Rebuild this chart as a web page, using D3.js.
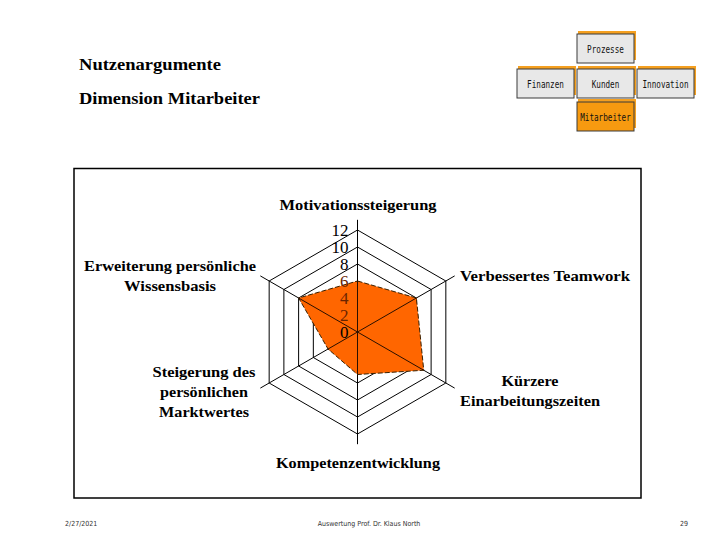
<!DOCTYPE html>
<meta charset="utf-8">
<html>
  <head>
    <style>
      body { margin: 0; background: white; }
      text { font-family: "Liberation Serif", serif; }
      .nav text { font-family: "DejaVu Sans Mono", monospace; font-size: 10px; }
      .foot { font-family: "DejaVu Sans Condensed", sans-serif; font-size: 7px; fill: #333; }
    </style>
    <script src="https://d3js.org/d3.v7.min.js"></script>
  </head>
  <body>
<div id="my_dataviz"></div>
<script>

// chart values
var axes = ["Motivationssteigerung", "Verbessertes Teamwork", "Kürzere Einarbeitungszeiten",
            "Kompetenzentwicklung", "Steigerung des persönlichen Marktwertes", "Erweiterung persönliche Wissensbasis"]
var values = [6, 8, 9, 5, 4, 8]
var ticks = [0, 2, 4, 6, 8, 10, 12]
var navItems = ["Prozesse", "Finanzen", "Kunden", "Innovation", "Mitarbeiter"]
var titleLines = ["Nutzenargumente", "Dimension Mitarbeiter"]

// label layout (lines, anchor x, first baseline, anchor)
var labelLayout = [
  {lines: ["Motivationssteigerung"], x: 358, y: 210, anchor: "middle", w: [157]},
  {lines: ["Verbessertes Teamwork"], x: 460, y: 281, anchor: "start", w: [170]},
  {lines: ["Kürzere", "Einarbeitungszeiten"], x: 530, y: 386, anchor: "middle", w: [57, 140]},
  {lines: ["Kompetenzentwicklung"], x: 358, y: 468, anchor: "middle", w: [164]},
  {lines: ["Steigerung des", "persönlichen", "Marktwertes"], x: 204, y: 377, anchor: "middle", w: [103, 88, 90]},
  {lines: ["Erweiterung persönliche", "Wissensbasis"], x: 170, y: 271, anchor: "middle", w: [172, 92]}
]
var navLayout = [
  {x: 577, y: 34}, {x: 517, y: 69}, {x: 577, y: 69}, {x: 637, y: 69}, {x: 577, y: 102}
]

var width = 720, height = 540
var cx = 357.5, cy = 332

var svg = d3.select("#my_dataviz")
  .append("svg")
  .attr("width", width)
  .attr("height", height)

// title
svg.selectAll(".title")
  .data(titleLines)
  .enter()
  .append("text")
  .attr("x", 79)
  .attr("y", (d, i) => 70 + i * 34)
  .attr("textLength", (d, i) => i == 0 ? 142 : 181)
  .attr("lengthAdjust", "spacingAndGlyphs")
  .style("font-size", "17px")
  .style("font-weight", "bold")
  .text(d => d)

// navigation boxes
var nav = svg.append("g").attr("class", "nav")
var bw = 57, bh = 29
nav.selectAll(".shadow")
  .data(navItems)
  .enter()
  .append("rect")
  .attr("x", (d, i) => navLayout[i].x + 1)
  .attr("y", (d, i) => navLayout[i].y - 3)
  .attr("width", bw + 1)
  .attr("height", bh)
  .style("fill", "#f5a020")
nav.selectAll(".box")
  .data(navItems)
  .enter()
  .append("rect")
  .attr("x", (d, i) => navLayout[i].x)
  .attr("y", (d, i) => navLayout[i].y)
  .attr("width", bw)
  .attr("height", bh)
  .style("fill", d => d == "Mitarbeiter" ? "#f79a10" : "#e8e8e8")
  .style("stroke", "#3a3a3a")
  .style("stroke-width", 1)
nav.selectAll(".lbl")
  .data(navItems)
  .enter()
  .append("text")
  .attr("x", (d, i) => navLayout[i].x + bw / 2)
  .attr("y", (d, i) => navLayout[i].y + bh / 2 + 4)
  .attr("text-anchor", "middle")
  .attr("textLength", d => d.length * 4.6)
  .attr("lengthAdjust", "spacingAndGlyphs")
  .style("fill", "#111")
  .text(d => d)

// chart frame
svg.append("rect")
  .attr("x", 74)
  .attr("y", 168.5)
  .attr("width", 567)
  .attr("height", 329.5)
  .style("fill", "white")
  .style("stroke", "black")
  .style("stroke-width", 1.5)

var r = d3.scaleLinear().domain([0, 12]).range([0, 102])
var angle = d3.scalePoint().domain(d3.range(axes.length + 1)).range([0, 2 * Math.PI])

var g = svg.append("g").attr("transform", "translate(" + cx + "," + cy + ")")

// rings
var ring = d3.lineRadial()
  .angle((d, i) => angle(i))
  .radius(d => r(d))
  .curve(d3.curveLinearClosed)
g.selectAll(".ring")
  .data(ticks.slice(1))
  .enter()
  .append("path")
  .attr("d", t => ring(axes.map(() => t)))
  .style("fill", "none")
  .style("stroke", "black")
  .style("stroke-width", 1)

// spokes
g.selectAll(".spoke")
  .data(axes)
  .enter()
  .append("line")
  .attr("x1", 0).attr("y1", 0)
  .attr("x2", (d, i) => r(13.2) * Math.sin(angle(i)))
  .attr("y2", (d, i) => -r(13.2) * Math.cos(angle(i)))
  .style("stroke", "black")
  .style("stroke-width", 1)

// data polygon
g.append("path")
  .datum(values)
  .attr("d", ring)
  .style("fill", "#ff6600")
  .style("stroke", "#3a2000")
  .style("stroke-width", 1)
  .style("stroke-dasharray", "5,2")

// redraw spokes inside polygon
g.selectAll(".spoke2")
  .data(axes)
  .enter()
  .append("line")
  .attr("x1", 0).attr("y1", 0)
  .attr("x2", (d, i) => r(values[i]) * Math.sin(angle(i)))
  .attr("y2", (d, i) => -r(values[i]) * Math.cos(angle(i)))
  .style("stroke", "#2a1000")
  .style("stroke-width", 1)

// tick labels
g.selectAll(".tick")
  .data(ticks)
  .enter()
  .append("text")
  .attr("x", -9)
  .attr("y", t => -r(t) + 6)
  .attr("text-anchor", "end")
  .style("font-size", "17px")
  .style("fill", t => t > 0 && t <= 6 ? "#6a2400" : "black")
  .text(t => t)

// category labels
labelLayout.forEach(function(L) {
  svg.selectAll(null)
    .data(L.lines)
    .enter()
    .append("text")
    .attr("x", L.x)
    .attr("y", (d, i) => L.y + i * 20)
    .attr("text-anchor", L.anchor)
    .attr("textLength", (d, i) => L.w[i])
    .attr("lengthAdjust", "spacingAndGlyphs")
    .style("font-size", "15px")
    .style("font-weight", "bold")
    .text(d => d)
})

// footer
svg.append("text").attr("class", "foot").attr("x", 65).attr("y", 526).text("2/27/2021")
svg.append("text").attr("class", "foot").attr("x", 369).attr("y", 526).attr("text-anchor", "middle")
  .text("Auswertung    Prof. Dr. Klaus North")
svg.append("text").attr("class", "foot").attr("x", 680).attr("y", 526).text("29")

</script>
</body>
</html>
